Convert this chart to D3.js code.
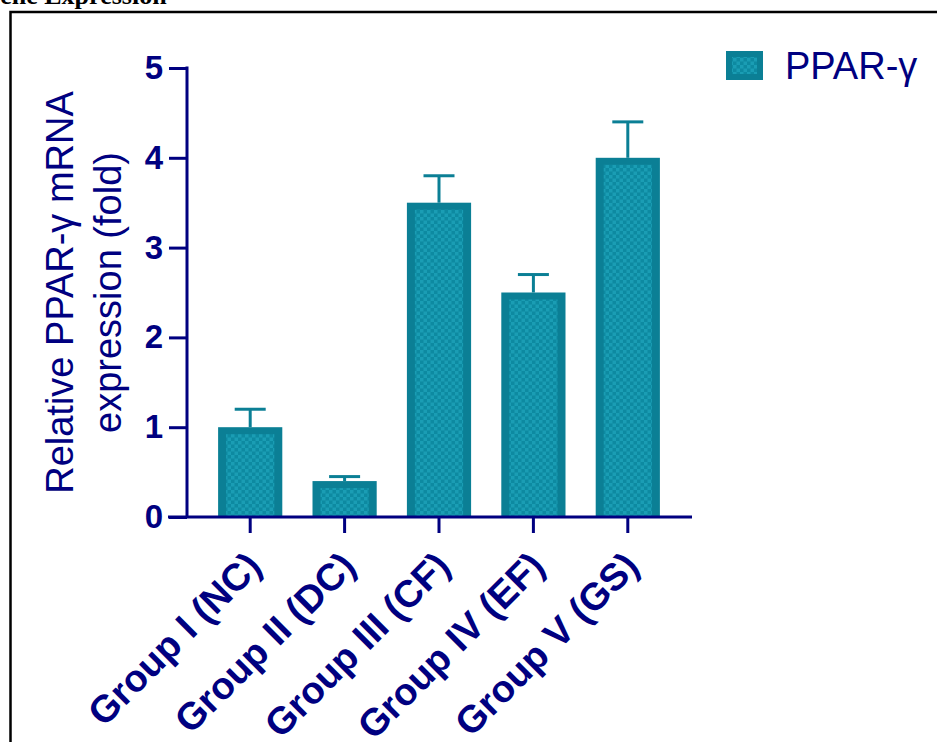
<!DOCTYPE html>
<html>
<head>
<meta charset="utf-8">
<script src="https://cdn.jsdelivr.net/npm/d3@7"></script>
<style>
  body { margin: 0; background: #fff; overflow: hidden; }
</style>
</head>
<body>
<script>
// data
var groups = ["Group I (NC)", "Group II (DC)", "Group III (CF)", "Group IV (EF)", "Group V (GS)"];
var means = [1.0, 0.4, 3.5, 2.5, 4.0];
var errors = [0.2, 0.05, 0.3, 0.2, 0.4];
var yTicks = [0, 1, 2, 3, 4, 5];
var seriesName = "PPAR-γ";

const W = 937, H = 742;
const navy = "#000080";
const teal = "#0b7f95";

const svg = d3.select("body")
    .append("svg")
    .attr("width", W)
    .attr("height", H);

// checker pattern for the bar interiors
const defs = svg.append("defs");
const pat = defs.append("pattern")
    .attr("id", "checker")
    .attr("patternUnits", "userSpaceOnUse")
    .attr("width", 7).attr("height", 7);
pat.append("rect").attr("width", 7).attr("height", 7).attr("fill", "#0d8aa1");
pat.append("rect").attr("width", 3.5).attr("height", 3.5).attr("fill", "#1a9db4");
pat.append("rect").attr("x", 3.5).attr("y", 3.5).attr("width", 3.5).attr("height", 3.5).attr("fill", "#1a9db4");

// page title, cut off on the left like the source
svg.append("text")
    .attr("x", -20).attr("y", 4)
    .attr("font-family", "Liberation Serif, Times New Roman, serif")
    .attr("font-weight", "bold")
    .attr("font-size", 26)
    .text("Gene Expression");

// frame around the figure
svg.append("rect")
    .attr("x", 10.5).attr("y", 12)
    .attr("width", W + 20).attr("height", H + 20)
    .attr("fill", "none")
    .attr("stroke", "#000")
    .attr("stroke-width", 2.5);

const x = d3.scaleBand()
    .domain(groups)
    .range([203, 675])
    .paddingInner(0.32)
    .paddingOuter(0.16);

const y = d3.scaleLinear()
    .domain([0, 5])
    .range([517, 68]);

const axisX = 187;
const font = "Liberation Sans, Arial, sans-serif";

// bars
const bars = svg.append("g").selectAll("g")
    .data(groups)
    .enter()
    .append("g");

bars.append("rect")
    .attr("x", d => x(d))
    .attr("y", (d, i) => y(means[i]))
    .attr("width", x.bandwidth())
    .attr("height", (d, i) => y(0) - y(means[i]))
    .attr("fill", teal);

bars.append("rect")
    .attr("x", d => x(d) + 8)
    .attr("y", (d, i) => y(means[i]) + 7)
    .attr("width", x.bandwidth() - 16)
    .attr("height", (d, i) => Math.max(0, y(0) - y(means[i]) - 7))
    .attr("fill", "url(#checker)");

// error bars (upper only)
bars.append("line")
    .attr("x1", d => x(d) + x.bandwidth() / 2)
    .attr("x2", d => x(d) + x.bandwidth() / 2)
    .attr("y1", (d, i) => y(means[i]))
    .attr("y2", (d, i) => y(means[i] + errors[i]))
    .attr("stroke", teal)
    .attr("stroke-width", 3);

bars.append("line")
    .attr("x1", d => x(d) + x.bandwidth() / 2 - 15.5)
    .attr("x2", d => x(d) + x.bandwidth() / 2 + 15.5)
    .attr("y1", (d, i) => y(means[i] + errors[i]))
    .attr("y2", (d, i) => y(means[i] + errors[i]))
    .attr("stroke", teal)
    .attr("stroke-width", 3);

// y axis
const gy = svg.append("g")
    .attr("transform", "translate(" + axisX + ",0)")
    .call(d3.axisLeft(y).tickValues(yTicks).tickSize(18).tickPadding(6).tickFormat(d3.format("d")));
gy.select(".domain").remove();
gy.selectAll(".tick line").attr("stroke", navy).attr("stroke-width", 3);
gy.selectAll(".tick text")
    .attr("fill", navy)
    .attr("font-family", font)
    .attr("font-weight", "bold")
    .attr("font-size", 33);
svg.append("line")
    .attr("x1", axisX).attr("x2", axisX)
    .attr("y1", y(5) - 1.5).attr("y2", y(0))
    .attr("stroke", navy).attr("stroke-width", 3);

// x axis
const gx = svg.append("g")
    .attr("transform", "translate(0," + y(0) + ")")
    .call(d3.axisBottom(x).tickSize(16).tickPadding(10));
gx.select(".domain").remove();
gx.selectAll(".tick line").attr("stroke", navy).attr("stroke-width", 3);
gx.selectAll(".tick text")
    .attr("fill", navy)
    .attr("font-family", font)
    .attr("font-weight", "bold")
    .attr("font-size", 38)
    .attr("text-anchor", "end")
    .attr("dy", "0.7em")
    .attr("transform", "translate(-24,14) rotate(-45)");
svg.append("line")
    .attr("x1", axisX - 19).attr("x2", 692)
    .attr("y1", y(0)).attr("y2", y(0))
    .attr("stroke", navy).attr("stroke-width", 3);

// y axis title, two lines
const yTitle = svg.append("text")
    .attr("transform", "translate(73," + (y(2.5)) + ") rotate(-90)")
    .attr("text-anchor", "middle")
    .attr("fill", navy)
    .attr("font-family", font)
    .attr("font-size", 38);
yTitle.append("tspan").attr("x", 0).attr("y", 0).text("Relative " + seriesName + " mRNA");
yTitle.append("tspan").attr("x", 0).attr("y", 48).text("expression (fold)");

// legend
const lg = svg.append("g").attr("transform", "translate(726,51)");
lg.append("rect").attr("width", 37).attr("height", 29).attr("fill", teal);
lg.append("rect").attr("x", 6).attr("y", 6).attr("width", 25).attr("height", 17).attr("fill", "url(#checker)");
lg.append("text")
    .attr("x", 59).attr("y", 28)
    .attr("fill", navy)
    .attr("font-family", font)
    .attr("font-size", 38)
    .text(seriesName);
</script>
</body>
</html>
